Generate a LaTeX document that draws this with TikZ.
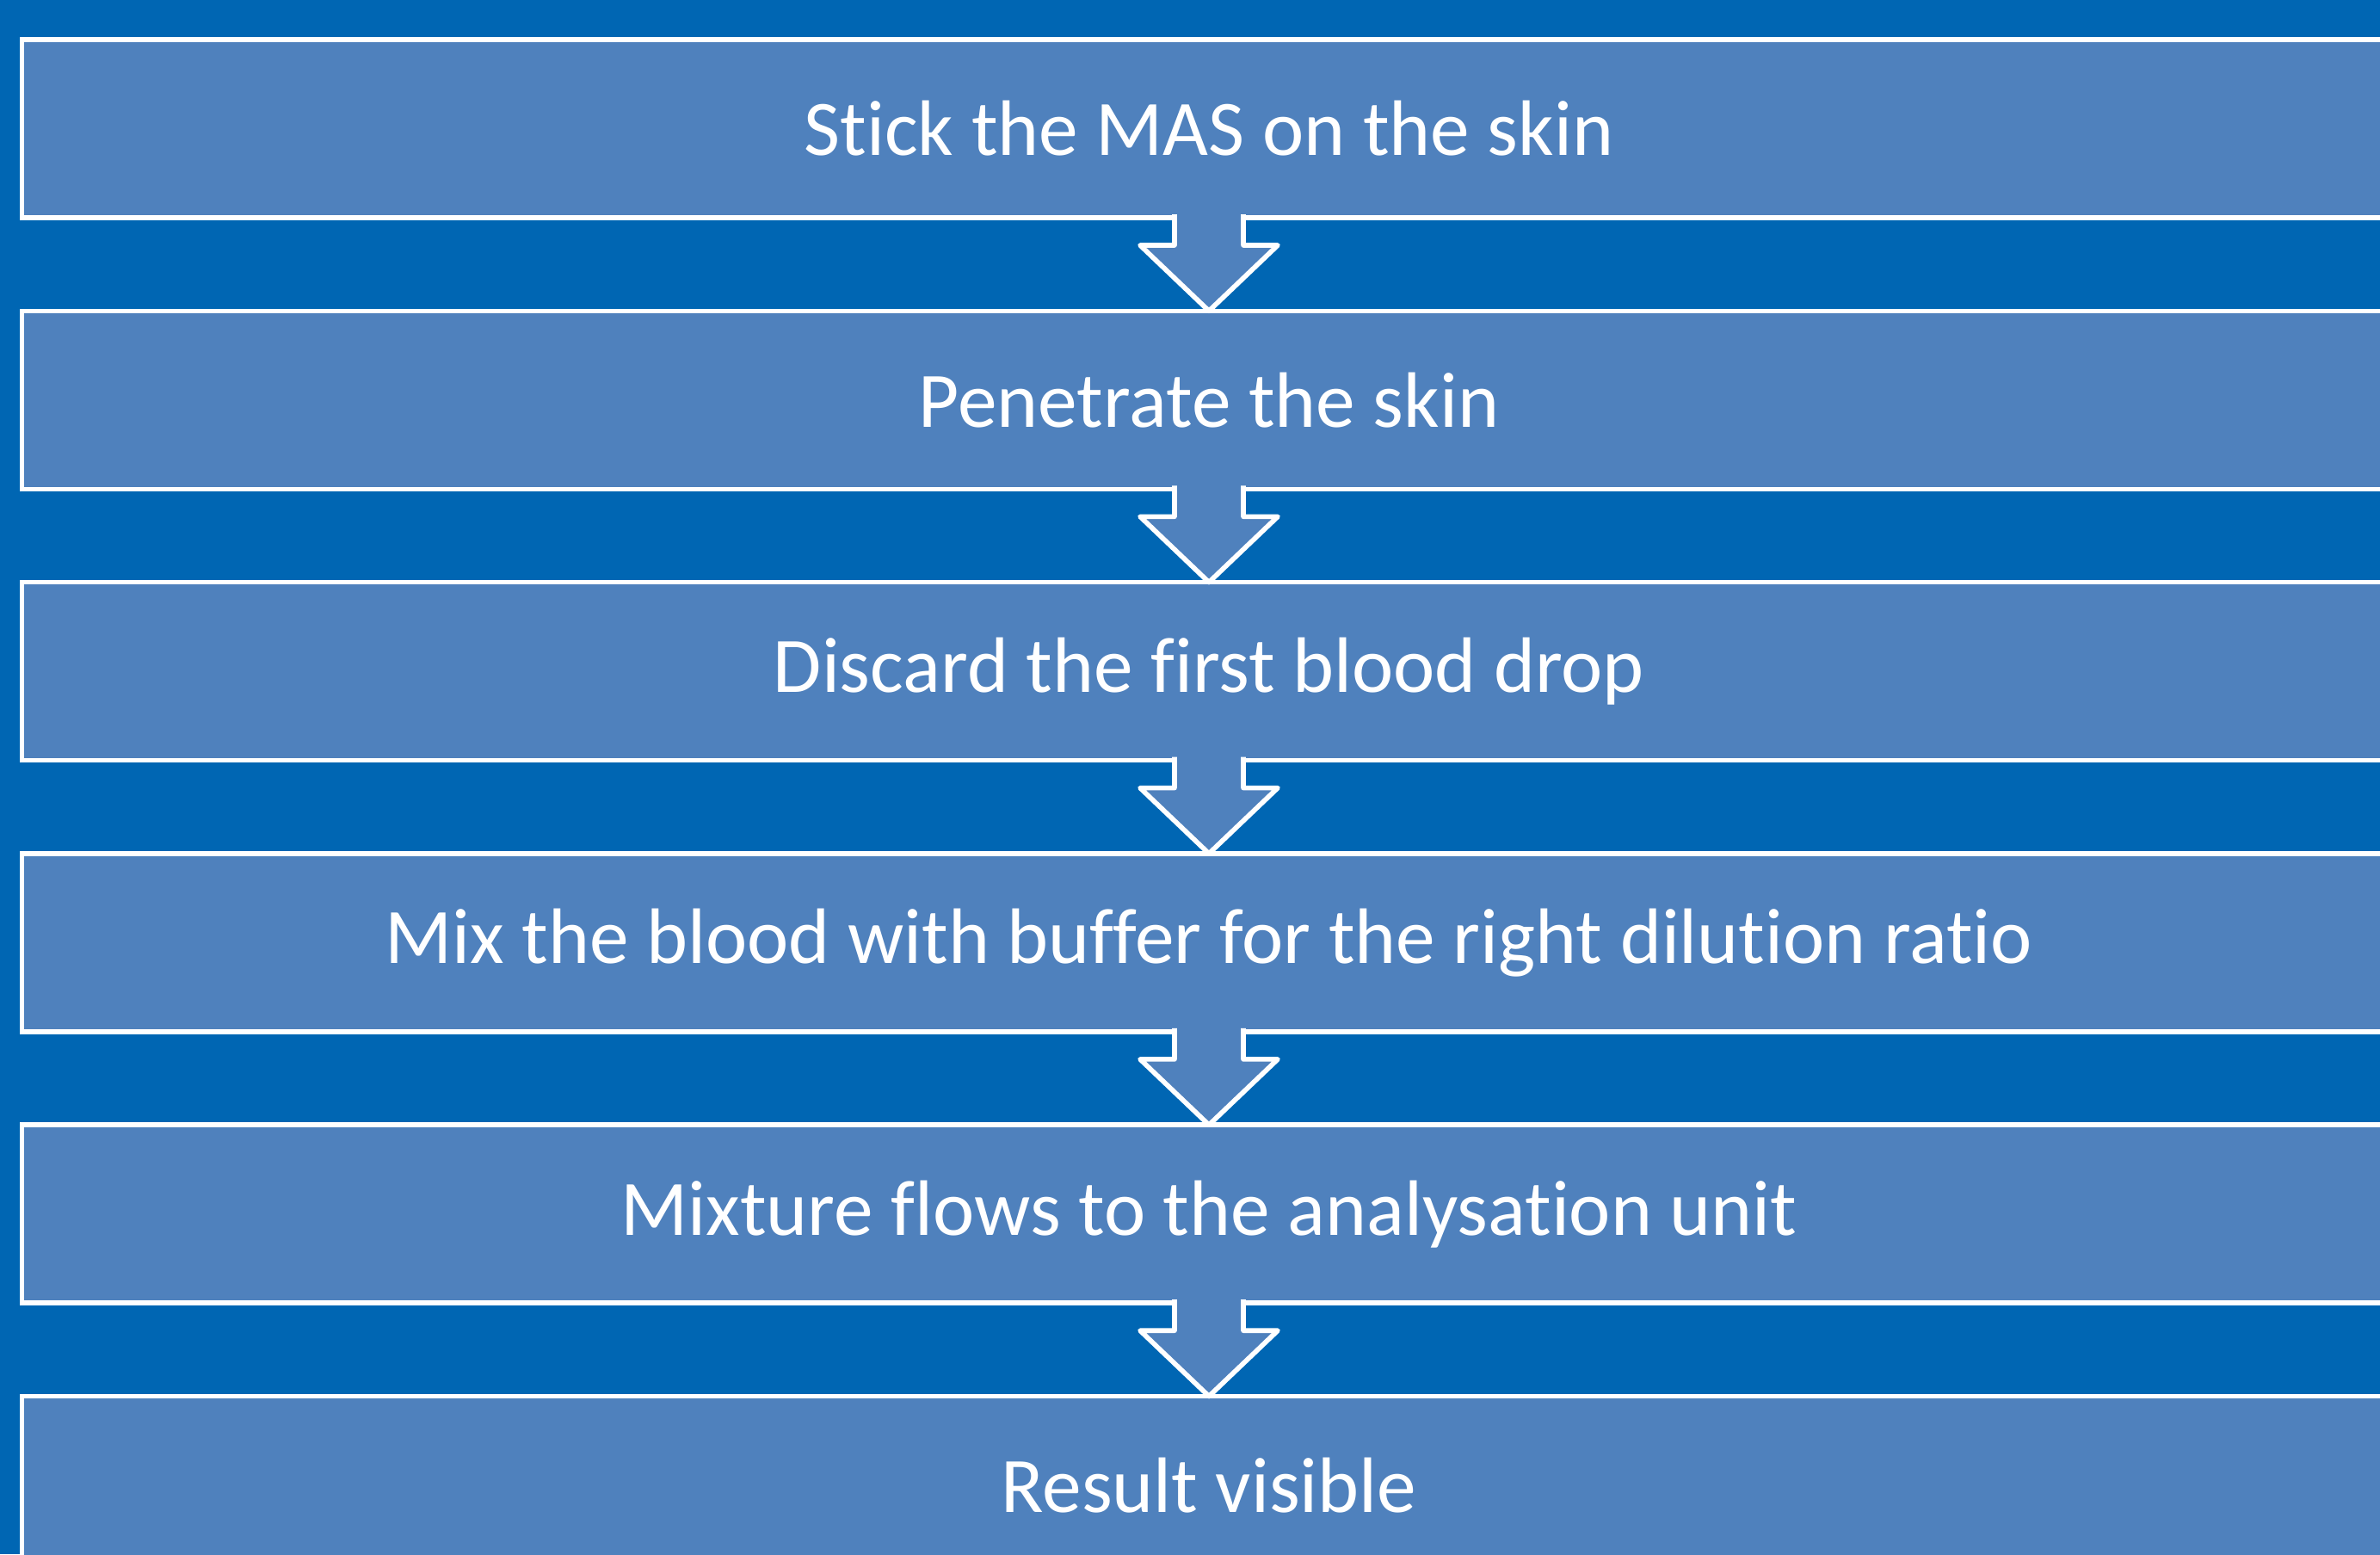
\documentclass[tikz,border=0pt]{standalone}
\usepackage{fontspec}
\setmainfont[Ligatures=NoCommon]{Carlito}
\usepackage{tikz}
\usetikzlibrary{calc}

\definecolor{bgblue}{RGB}{0,102,179}
\definecolor{boxblue}{RGB}{79,129,189}

\tikzset{
  stepbox/.style={draw=white, fill=boxblue, line width=1.6pt, outer sep=0pt,
    minimum width=27.59cm, minimum height=2.07cm, text=white,
    font=\fontsize{26}{31}\selectfont},
  downarrow/.style={draw=white, fill=boxblue, line width=1.6pt, line join=round,
    to path={($(\tikztostart)+(-0.4,0.04)$) -- ($(\tikztostart)+(-0.4,-0.32)$)
      -- ($(\tikztostart)+(-0.8,-0.32)$) -- (\tikztotarget)
      -- ($(\tikztostart)+(0.8,-0.32)$) -- ($(\tikztostart)+(0.4,-0.32)$)
      -- ($(\tikztostart)+(0.4,0.04)$)}}
}

\begin{document}
\begin{tikzpicture}
\useasboundingbox (0,0) rectangle (27.66,-18.06);
\clip (0,0) rectangle (27.66,-18.06);
% Hintergrund
\fill[bgblue] (0,0) rectangle (27.66,-18.06);

% Schritte
\node[stepbox] (stick) at (14.05,-1.495) {Stick the MAS on the skin};
\node[stepbox] (pen) at (14.05,-4.648) {Penetrate the skin};
\node[stepbox] (discard) at (14.05,-7.801) {Discard the first blood drop};
\node[stepbox] (mix) at (14.05,-10.954) {Mix the blood with buffer for the right dilution ratio};
\node[stepbox] (flow) at (14.05,-14.107) {Mixture flows to the analysation unit};
\node[stepbox] (result) at (14.05,-17.26) {Result visible};

% Pfeile
\draw[downarrow] (stick.south) to (pen.north);
\draw[downarrow] (pen.south) to (discard.north);
\draw[downarrow] (discard.south) to (mix.north);
\draw[downarrow] (mix.south) to (flow.north);
\draw[downarrow] (flow.south) to (result.north);
\end{tikzpicture}
\end{document}
